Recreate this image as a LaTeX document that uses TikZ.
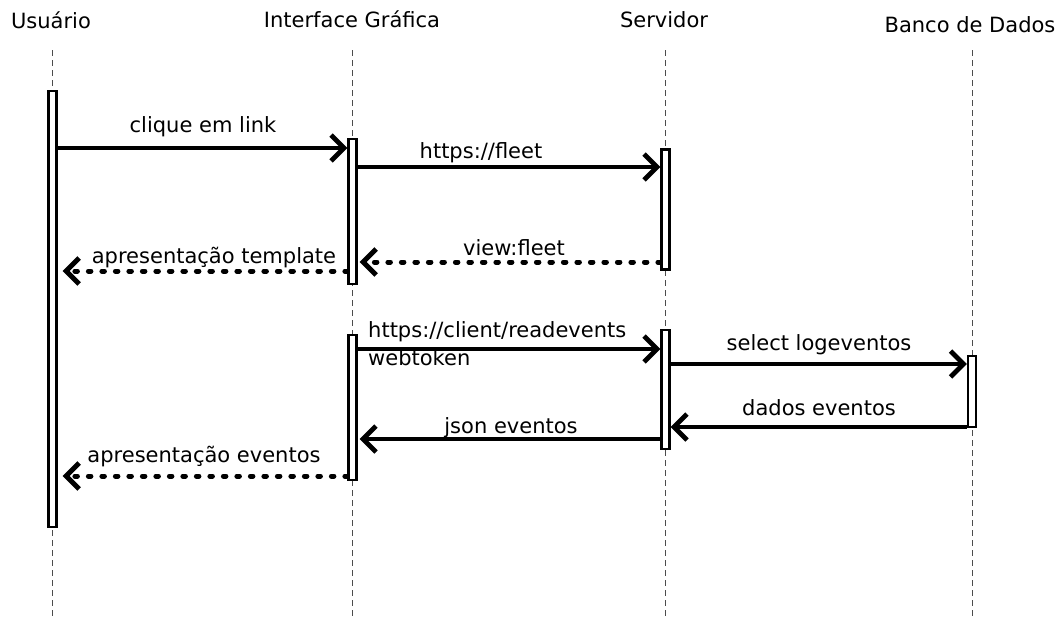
\documentclass[tikz,border=0pt]{standalone}
\usepackage{fontspec}
\setmainfont{DejaVu Sans}
\usetikzlibrary{arrows.meta}
\tikzset{
  txt/.style={inner sep=0pt, font=\fontsize{21}{25}\selectfont},
  lifeline/.style={draw=black!70, line width=0.9pt, dash pattern=on 6pt off 4pt},
  actbox/.style={draw=black, fill=white, line width=2.2pt, minimum width=8pt, inner sep=0pt},
  chev/.style={-{Straight Barb[length=13pt, width=26pt]}},
  call/.style={chev, line width=4.8pt},
  reply/.style={chev, line width=5pt, dash pattern=on 2.5pt off 11pt, line cap=round},
}
\begin{document}
\begin{tikzpicture}[x=1pt, y=-1pt]
\useasboundingbox (0,0) rectangle (1064,619);

% participants
\node[txt, anchor=base] (hu) at (51,28) {Usuário};
\node[txt, anchor=base] (hg) at (352,27) {Interface Gráfica};
\node[txt, anchor=base] (hs) at (664,27) {Servidor};
\node[txt, anchor=base] (hb) at (970,32) {Banco de Dados};

% lifelines
\coordinate (lu) at (52,619);
\coordinate (lg) at (352.5,619);
\coordinate (ls) at (665.5,619);
\coordinate (lb) at (972,619);
\draw[lifeline] (52,50) -- (lu);
\draw[lifeline] (352.5,50) -- (lg);
\draw[lifeline] (665.5,50) -- (ls);
\draw[lifeline] (972,50) -- (lb);

% activation bars
\node[actbox, minimum height=436pt] (u1) at (52.5,309) {};
\node[actbox, minimum height=145pt] (g1) at (352.5,211.5) {};
\node[actbox, minimum height=120pt] (s1) at (665.5,209.5) {};
\node[actbox, minimum height=145pt] (g2) at (352.5,407.5) {};
\node[actbox, minimum height=119pt] (s2) at (665.5,389.5) {};
\node[actbox, minimum height=71pt]  (b1) at (972,391.5) {};

% messages
\draw[call]  (u1.east |- 0,148) -- (g1.west |- 0,148);
\node[txt, anchor=base] (m1) at (203,132) {clique em link};

\draw[call]  (g1.east |- 0,167) -- (s1.west |- 0,167);
\node[txt, anchor=base] (m2) at (481,158) {https://fleet};

\draw[reply] (s1.west |- 0,262) -- ([xshift=2pt]g1.east |- 0,262);
\node[txt, anchor=base] (m3) at (514,255) {view:fleet};

\draw[reply] (g1.west |- 0,271) -- ([xshift=5pt]u1.east |- 0,271);
\node[txt, anchor=base] (m4) at (214,263) {apresentação template};

\draw[call]  (g2.east |- 0,349) -- (s2.west |- 0,349);
\node[txt, anchor=base west] (m5a) at (368,337) {https://client/readevents};
\node[txt, anchor=base west] (m5b) at (368,365) {webtoken};

\draw[call]  (s2.east |- 0,364) -- (b1.west |- 0,364);
\node[txt, anchor=base] (m6) at (819,350) {select logeventos};

\draw[call]  (b1.west |- 0,427) -- (s2.east |- 0,427);
\node[txt, anchor=base] (m7) at (819,415) {dados eventos};

\draw[call]  (s2.west |- 0,439) -- ([xshift=2pt]g2.east |- 0,439);
\node[txt, anchor=base] (m8) at (511,433) {json eventos};

\draw[reply] (g2.west |- 0,476) -- ([xshift=5pt]u1.east |- 0,476);
\node[txt, anchor=base] (m9) at (204,462) {apresentação eventos};
\end{tikzpicture}
\end{document}
